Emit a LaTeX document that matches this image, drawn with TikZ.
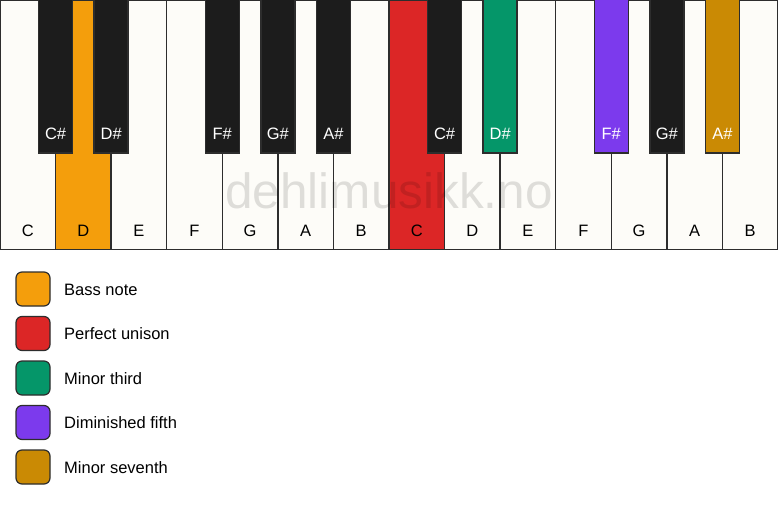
\documentclass[tikz,border=0pt]{standalone}
\usepackage{fontspec}
\setmainfont{Liberation Sans}
\definecolor{wkey}{RGB}{253,252,248}
\definecolor{bkey}{RGB}{28,28,28}
\definecolor{edge}{RGB}{45,45,45}
\definecolor{cbass}{RGB}{244,158,12}
\definecolor{cuni}{RGB}{220,38,38}
\definecolor{cthird}{RGB}{5,150,105}
\definecolor{cfifth}{RGB}{124,58,237}
\definecolor{cseventh}{RGB}{202,138,4}
\begin{document}
\begin{tikzpicture}[x=1pt,y=-1pt,
  whitekey/.style={draw=edge,line width=1.3pt,fill=wkey},
  blackkey/.style={draw=edge,line width=1.3pt,fill=bkey},
  wlabel/.style={font=\fontsize{16.5}{19}\selectfont,text=black,anchor=base},
  blabel/.style={font=\fontsize{16.5}{19}\selectfont,text=white,anchor=base},
  legbox/.style={draw=edge,line width=1.2pt,rounded corners=6pt,minimum width=34pt,minimum height=34pt,inner sep=0pt},
  legtext/.style={font=\fontsize{16.5}{19}\selectfont,anchor=west,inner sep=0pt},
  wm/.style={font=\fontsize{49.5}{55}\selectfont,text=black,text opacity=0.12,anchor=base}]
\useasboundingbox (0,0) rectangle (778,506);
\fill[white] (0,0) rectangle (778,506);
\def\kw{55.571}
% white keys
\foreach \i/\n/\c in {0/C/wkey,1/D/cbass,2/E/wkey,3/F/wkey,4/G/wkey,5/A/wkey,6/B/wkey,7/C/cuni,8/D/wkey,9/E/wkey,10/F/wkey,11/G/wkey,12/A/wkey,13/B/wkey}{
  \draw[whitekey,fill=\c] ({\i*\kw},0) rectangle ({(\i+1)*\kw},249.5);
  \node[wlabel] (w\i) at ({(\i+0.5)*\kw},236) {\n};
}
% black keys
\foreach \b/\n/\c in {1/C\#/bkey,2/D\#/bkey,4/F\#/bkey,5/G\#/bkey,6/A\#/bkey,8/C\#/bkey,9/D\#/cthird,11/F\#/cfifth,12/G\#/bkey,13/A\#/cseventh}{
  \draw[blackkey,fill=\c] ({\b*\kw-17},-1) rectangle ({\b*\kw+17},153);
  \node[blabel] (b\b) at ({\b*\kw},139) {\n};
}
% watermark
\node[wm] (wmark) at (389,208) {dehlimusikk.no};
% legend
\foreach \k/\c/\t in {0/cbass/Bass note,1/cuni/Perfect unison,2/cthird/Minor third,3/cfifth/Diminished fifth,4/cseventh/Minor seventh}{
  \node[legbox,fill=\c] (lb\k) at (33,{289+\k*44.5}) {};
  \node[legtext] (lt\k) at (64,{289.5+\k*44.5}) {\t};
}
\end{tikzpicture}
\end{document}
